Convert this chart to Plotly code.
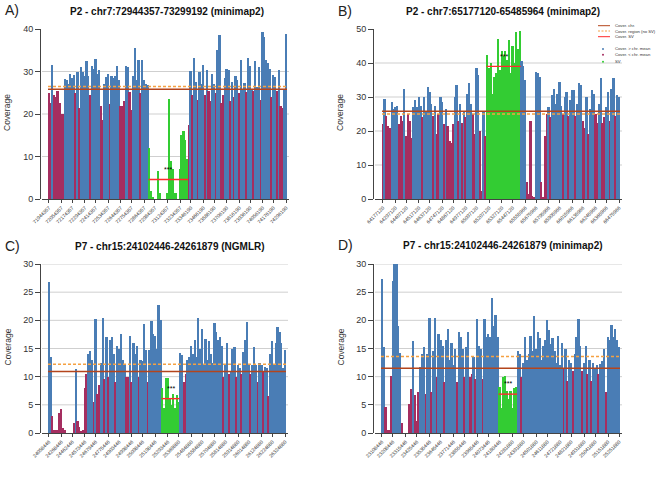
import plotly.graph_objects as go

W, H = 666, 479

# ---------------- DATA ----------------
A_title = "P2 - chr7:72944357-73299192 (minimap2)"
A_left = [25, 22.5, 31.5, 24.5, 24, 25.5, 22.5, 20, 20, 28.3, 28, 27, 29.3, 28.5, 29.2, 25, 30, 21.5,
          31, 30, 29, 32.5, 29, 24.5, 31.2, 30.5, 33, 29.5, 30.4, 22, 18.5, 27, 28.8, 29.3, 22.3, 29,
          28.5, 29, 31.2, 28, 22, 22, 23, 31.3, 31, 25.2, 21, 29, 35.5, 28, 32.7, 25, 32.8, 28, 27, 26.8]
A_sv = [12, 2, 0.3, 0, 0, 6.5, 1.5, 0, 0, 0, 1.5, 23.5, 9, 7, 1.5, 1.5, 0, 7, 15, 16, 14, 9.5]
A_right = [17.5, 30.2, 24.5, 33.2, 27.5, 23.3, 30, 27, 31.5, 24.5, 30.3, 25.5, 23, 29.5, 27, 25, 35,
           38.5, 22.5, 24.5, 28.5, 30.5, 30.3, 23, 27.5, 24, 29, 28, 25, 32.6, 26, 27.2, 25.2, 33.2,
           31.2, 26, 25.3, 32.4, 26.3, 31, 23.3, 39.2, 38.2, 32.7, 32, 30.6, 24, 29.1, 28.6, 25.5,
           30.3, 22, 21.5, 26, 38.8]
A_chr_mean, A_region_mean, A_sv_mean = 25.8, 26.5, 4.6
A_ticks = ["71944357", "72054357", "72174357", "72294357", "72414357", "72534357", "72644357",
           "72754357", "72864357", "72984357", "73124357", "73234357", "73346190", "73466190",
           "73586190", "73706190", "73816190", "73936190", "74056190", "74176190", "74296190"]

B_title = "P2 - chr7:65177120-65485964 (minimap2)"
B_left = [22, 29.5, 24.5, 21.5, 21, 28.5, 26.5, 27, 27.5, 22, 24.5, 23, 32.5, 18.5, 25, 23, 18, 27,
          29, 27, 30, 27.5, 24, 30, 26, 33, 31.5, 28, 24.5, 27.5, 19, 25, 30, 28.5, 22, 26.5, 21.5,
          17, 16.5, 22, 30, 33.5, 23, 28, 22.5, 26, 24, 31, 34, 28, 25, 19, 38.5, 36.5, 20, 2.5, 26, 18.5]
B_sv = [42.3, 38.5, 40, 31, 36, 37, 47.2, 38, 43.5, 42, 43.5, 41, 46.8, 37, 45, 40, 49.2, 44, 49.5]
B_right = [40.5, 39, 35, 5, 1.5, 23, 1, 0.5, 37.5, 37, 36, 5, 0.3, 18.5, 25, 27, 24, 30.5, 32.5, 28,
           31, 34.5, 27.5, 25, 30, 31.5, 24.5, 29, 32, 32, 24.5, 28, 34, 33.5, 23, 21, 30, 19, 26.5,
           32, 31, 25, 22.5, 28, 35.5, 22.5, 24, 27, 31.5, 23, 32.5, 35.5, 24.5, 30.5, 30]
B_chr_mean, B_region_mean, B_sv_mean = 25.8, 25.0, 39.0
B_ticks = ["64177120", "64297120", "64407120", "64517120", "64637120", "64747120", "64867120",
           "64977120", "65097120", "65207120", "65327120", "65447120", "65555966", "65675966",
           "65795966", "65905966", "66015966", "66135966", "66245966", "66365966", "66475966"]

C_title = "P7 - chr15:24102446-24261879 (NGMLR)"
C_left = [26.8, 13.5, 3, 0.5, 0.5, 0.5, 3.5, 4.2, 0.8, 0.5, 0, 0, 0, 0, 1.8, 11.3, 2.2, 1, 0.3, 0.5,
          8, 10.5, 14, 14.5, 13, 5.5, 20.3, 7, 8.5, 12.5, 20.5, 9.5, 17, 10, 16.5, 17, 14, 9, 15.5,
          15, 17.5, 13, 12, 10, 10, 17.2, 9, 16, 14, 15.5, 10, 13, 12.8, 19.3, 14.8, 9, 14.7, 19.8,
          17.5, 17.3, 15, 22.8, 20]
C_sv = [8, 4.5, 9.8, 9.8, 6, 5, 7, 4.5, 6.8, 5.5]
C_right = [14.2, 13.8, 9, 10.5, 13, 13.5, 15.5, 14, 16.5, 13.5, 20.5, 15, 18.5, 12, 16.7, 13, 16.3,
           14, 12.5, 19.6, 18, 16.5, 17, 15.5, 10, 12, 16, 10.5, 11, 15, 15.3, 10, 12, 11.5, 10.5,
           14.3, 16.5, 19.7, 12, 10.5, 12, 15.3, 12, 9, 12.5, 12, 10.8, 11.8, 11.5, 6.5, 14, 16.3,
           12, 16, 18.8, 18, 16, 11.5, 14.7]
C_chr_mean, C_region_mean, C_sv_mean = 10.9, 12.2, 6.1
C_ticks = ["24058446", "24268446", "24462446", "24573446", "24679446", "24775446", "24903446",
           "24998446", "25098446", "25198446", "25293446", "25369880", "25484880", "25584880",
           "25704880", "25814880", "25914880", "26014880", "26124880", "26224880", "26324880"]

D_title = "P7 - chr15:24102446-24261879 (minimap2)"
D_left = [27.3, 15.2, 4.7, 0.5, 0.5, 10.2, 27, 30, 30, 19, 14.2, 1.8, 0, 0, 0, 5.2, 7.8, 16.3, 6.8,
          2.2, 7.2, 11.8, 14, 15.3, 7, 14, 20.5, 7.2, 14.5, 20.5, 10, 17.5, 16.5, 15.5, 9, 16.5,
          18.4, 13, 16, 12, 15, 9, 17.9, 17, 15, 10, 15.2, 18, 10, 10.5, 13.5, 9.5, 20.3, 15.5, 15,
          9.5, 20.2, 17, 17.5, 17, 24, 19, 21, 17]
D_sv = [8.2, 4.5, 10, 10.1, 7.5, 6, 7.5, 4.5, 8, 8.2]
D_right = [14.5, 14, 10, 12.5, 17, 13, 14, 17.2, 14.5, 20.7, 15, 18, 16.9, 13, 15.5, 16.5, 20, 18.3,
           15.8, 16.8, 14.5, 12.5, 17.3, 12, 16, 11.3, 15, 9.2, 13, 12.5, 11, 14, 17, 20.3, 15.5,
           11, 12.5, 15.5, 10.5, 13, 9.2, 12.5, 11.5, 12, 10.5, 12.3, 12.8, 15, 7.3, 17, 16.5,
           19.2, 17, 18.5, 16.5, 15.2]
D_chr_mean, D_region_mean, D_sv_mean = 11.5, 13.6, 6.9
D_ticks = ["23108446", "23208446", "23315446", "23425446", "23535446", "23645446", "23771446",
           "23855446", "23965446", "24073446", "24180446", "24281880", "24391880", "24501880",
           "24611880", "24721880", "24821880", "24931880", "25041880", "25151880", "25251880"]

# ---------------- STYLE / LAYOUT ----------------
BLUE = "#4A7DB5"
RED = "#A52E60"
GREEN = "#33CC33"
CHR_COL = "#B4451C"
REG_COL = "#F5A142"
SV_COL = "#FF2B2B"
FONT = "Liberation Sans, Arial, sans-serif"
TXT = "#333333"

panels = [
    dict(letter="A)", title=A_title, left=A_left, sv=A_sv, right=A_right, chr=A_chr_mean,
         reg=A_region_mean, svm=A_sv_mean, ticks=A_ticks,
         ax=40, bx0=48, bx1=287, ytop=29, ybot=199, ymax=40, dt=10, gridtop=False,
         tx=167, ty=11, lx=3, ly=10),
    dict(letter="B)", title=B_title, left=B_left, sv=B_sv, right=B_right, chr=B_chr_mean,
         reg=B_region_mean, svm=B_sv_mean, ticks=B_ticks,
         ax=373, bx0=382, bx1=620, ytop=29, ybot=199, ymax=50, dt=10, gridtop=False,
         tx=503, ty=11, lx=336, ly=11),
    dict(letter="C)", title=C_title, left=C_left, sv=C_sv, right=C_right, chr=C_chr_mean,
         reg=C_region_mean, svm=C_sv_mean, ticks=C_ticks,
         ax=40, bx0=48, bx1=286, ytop=264, ybot=433, ymax=30, dt=5, gridtop=True,
         tx=170, ty=246, lx=3, ly=246),
    dict(letter="D)", title=D_title, left=D_left, sv=D_sv, right=D_right, chr=D_chr_mean,
         reg=D_region_mean, svm=D_sv_mean, ticks=D_ticks,
         ax=373, bx0=381, bx1=620, ytop=264, ybot=433, ymax=30, dt=5, gridtop=True,
         tx=503, ty=245, lx=336, ly=245),
]

fig = go.Figure()
layout = dict(width=W, height=H, margin=dict(l=0, r=0, t=0, b=0, autoexpand=False),
              paper_bgcolor="white", plot_bgcolor="white", showlegend=False,
              bargap=0, annotations=[], shapes=[])


def px(x):
    return x / W


def py(y):
    return 1 - y / H


for i, p in enumerate(panels, start=1):
    xs = "x" if i == 1 else f"x{i}"
    ys = "y" if i == 1 else f"y{i}"
    xk = "xaxis" if i == 1 else f"xaxis{i}"
    yk = "yaxis" if i == 1 else f"yaxis{i}"
    vals = p["left"] + p["sv"] + p["right"]
    n = len(vals)
    s0 = len(p["left"])
    s1 = s0 + len(p["sv"]) - 1
    cols = []
    for j, v in enumerate(vals):
        if s0 <= j <= s1:
            cols.append(GREEN)
        elif v >= p["chr"]:
            cols.append(BLUE)
        else:
            cols.append(RED)
    idx = list(range(n))
    fig.add_trace(go.Bar(x=idx, y=vals, marker=dict(color=cols, line=dict(width=0)),
                         xaxis=xs, yaxis=ys, hoverinfo="skip"))
    # mean lines
    fig.add_trace(go.Scatter(x=[-0.5, n - 0.5], y=[p["reg"], p["reg"]], mode="lines",
                             line=dict(color=REG_COL, width=1.5, dash="3px,2px"), xaxis=xs, yaxis=ys))
    fig.add_trace(go.Scatter(x=[-0.5, n - 0.5], y=[p["chr"], p["chr"]], mode="lines",
                             line=dict(color=CHR_COL, width=1.5), xaxis=xs, yaxis=ys))
    fig.add_trace(go.Scatter(x=[s0 - 0.5, s1 + 0.5], y=[p["svm"], p["svm"]], mode="lines",
                             line=dict(color=SV_COL, width=1.4), xaxis=xs, yaxis=ys))
    layout["annotations"].append(dict(x=(s0 + s1) / 2, y=p["svm"] + p["ymax"] * 0.06, xref=xs, yref=ys,
                                      text="***", showarrow=False, xanchor="center",
                                      font=dict(size=7, color="black", family=FONT)))

    bw = (p["bx1"] - p["bx0"]) / n
    d0 = p["ax"] + 2
    d1 = p["bx1"] + 2
    xr = [-0.5 - (p["bx0"] - d0) / bw, n - 0.5 + (d1 - p["bx1"]) / bw]
    nt = len(p["ticks"])
    tickvals = [round(k * (n - 1) / (nt - 1)) for k in range(nt)]
    layout[xk] = dict(domain=[px(d0), px(d1)], anchor=ys, range=xr, tickvals=tickvals,
                      ticktext=p["ticks"], tickangle=-45, tickfont=dict(size=5, color=TXT, family=FONT),
                      showline=True, linecolor="#444", linewidth=1, ticks="outside", ticklen=3,
                      tickcolor="#444", showgrid=False, zeroline=False, automargin=False)
    yt = list(range(0, p["ymax"] + 1, p["dt"]))
    layout[yk] = dict(domain=[py(p["ybot"]), py(p["ytop"])], anchor="free", position=px(p["ax"]),
                      range=[0, p["ymax"]], tickvals=yt,
                      tickfont=dict(size=9, color=TXT, family=FONT), showline=True, linecolor="#444",
                      linewidth=1, ticks="outside", ticklen=5, tickcolor="#444",
                      showgrid=False, zeroline=False, automargin=False)
    # gridlines
    for g in (yt[1:] if p["gridtop"] else yt[1:-1]):
        layout["shapes"].append(dict(type="line", xref=f"{xs} domain", yref=ys, x0=0, x1=1, y0=g, y1=g,
                                     line=dict(color="#CFCFCF", width=1), layer="below"))
    # titles
    layout["annotations"].append(dict(x=px(p["tx"]), y=py(p["ty"]), xref="paper", yref="paper",
                                      text=f"<b>{p['title']}</b>", showarrow=False,
                                      xanchor="center", yanchor="middle",
                                      font=dict(size=10, color="#111", family=FONT)))
    layout["annotations"].append(dict(x=px(p["lx"]), y=py(p["ly"]), xref="paper", yref="paper",
                                      text=p["letter"], showarrow=False, xanchor="left", yanchor="middle",
                                      font=dict(size=14, color="#222", family=FONT)))
    layout["annotations"].append(dict(x=px(p["ax"] - 33), y=py((p["ytop"] + p["ybot"]) / 2 - 1),
                                      xref="paper", yref="paper", text="Coverage", showarrow=False,
                                      xanchor="center", yanchor="middle",
                                      textangle=-90, font=dict(size=8.5, color=TXT, family=FONT)))

# legend in panel B
leg_lines = [("Cover. chr.", CHR_COL, "solid", 25.7), ("Cover. region (no SV)", REG_COL, "2px,1.5px", 31),
             ("Cover. SV", SV_COL, "solid", 36.7)]
for name, c, dsh, yy in leg_lines:
    layout["shapes"].append(dict(type="line", xref="paper", yref="paper", x0=px(598), x1=px(610),
                                 y0=py(yy), y1=py(yy), line=dict(color=c, width=1, dash=dsh)))
    layout["annotations"].append(dict(x=px(613), y=py(yy), xref="paper", yref="paper", text=name,
                                      showarrow=False, xanchor="left", yanchor="middle",
                                      font=dict(size=4.2, color=TXT, family=FONT)))
leg_pts = [("Cover. > chr. mean", BLUE, 49), ("Cover. < chr. mean", RED, 54.7), ("SV", GREEN, 61.7)]
for name, c, yy in leg_pts:
    layout["shapes"].append(dict(type="circle", xref="paper", yref="paper", x0=px(602), x1=px(604),
                                 y0=py(yy + 1), y1=py(yy - 1), fillcolor=c, line=dict(width=0)))
    layout["annotations"].append(dict(x=px(613), y=py(yy), xref="paper", yref="paper", text=name,
                                      showarrow=False, xanchor="left", yanchor="middle",
                                      font=dict(size=4.2, color=TXT, family=FONT)))

fig.update_layout(**layout)
fig.write_html("out.html", config={"displayModeBar": False},
               post_script="document.body.style.margin='0';document.body.style.overflow='hidden';")
